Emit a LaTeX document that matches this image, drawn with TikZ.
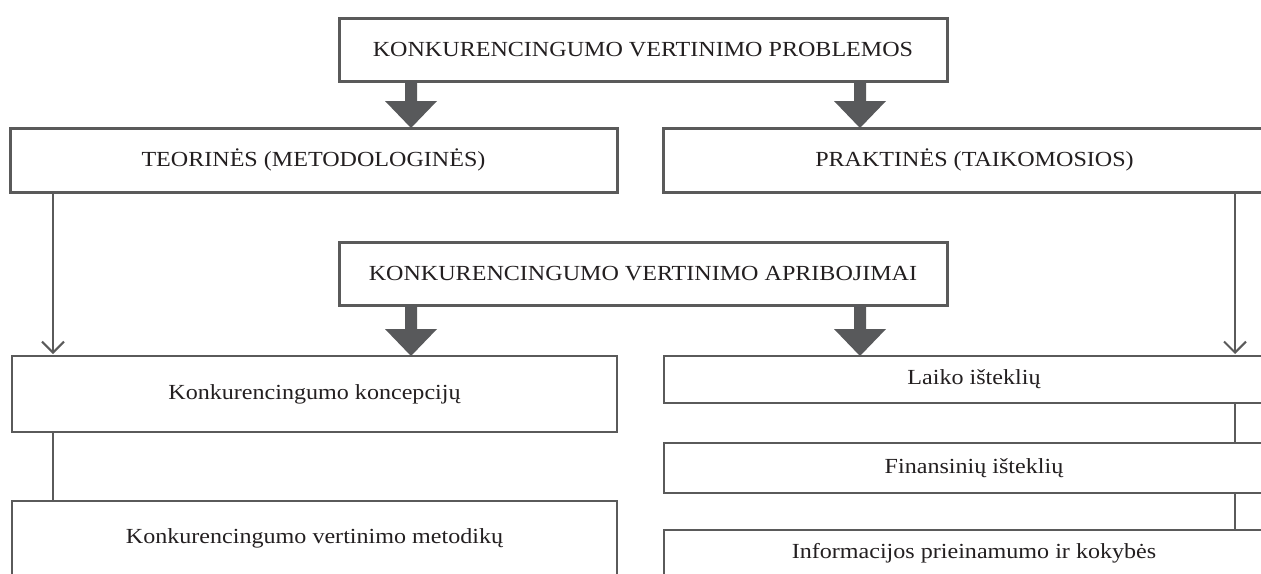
\documentclass[tikz,border=0pt]{standalone}
\usepackage{fontspec}
\setmainfont{Liberation Serif}[FakeStretch=1.12]
\usetikzlibrary{arrows.meta,calc}
\definecolor{bordc}{HTML}{5A5A5A}
\definecolor{arrc}{HTML}{58595B}
\definecolor{txtc}{HTML}{231F20}
\tikzset{
  boxbase/.style={draw=bordc, fill=white, text=txtc, inner sep=0pt, outer sep=0pt,
    font=\fontsize{21.5}{25}\selectfont},
  capbox/.style={boxbase, line width=3pt},
  lowbox/.style={boxbase, line width=2pt},
  conn/.style={draw=bordc, line width=2pt},
  thinarrow/.style={conn, -{Straight Barb[length=11pt,width=22pt]}},
  blockarrow/.style={fill=arrc}
}
\newcommand\blockarr[2]{%
  \fill[blockarrow] let \p1=(#1), \p2=(#2) in
    (\x1-6pt,\y1) -- (\x1-6pt,\y2+27pt) -- (\x1-26pt,\y2+27pt) -- (\x1,\y2)
    -- (\x1+26pt,\y2+27pt) -- (\x1+6pt,\y2+27pt) -- (\x1+6pt,\y1) -- cycle;}
\begin{document}
\begin{tikzpicture}[x=1pt,y=-1pt]
\useasboundingbox (0,0) rectangle (1261,573);
\fill[white] (0,0) rectangle (1261,573);
\clip (0,0) rectangle (1261,573);

% top level
\node[capbox, minimum width=608pt, minimum height=63pt] (top) at (643,49.5) {KONKURENCINGUMO VERTINIMO PROBLEMOS};
\node[capbox, minimum width=607pt, minimum height=64pt] (teo) at (313.5,160) {TEORINĖS (METODOLOGINĖS)};
\node[capbox, minimum width=622pt, minimum height=64pt] (prak) at (974.5,160) {PRAKTINĖS (TAIKOMOSIOS)};
\node[capbox, minimum width=608pt, minimum height=63pt] (apr) at (643,273.5) {KONKURENCINGUMO VERTINIMO APRIBOJIMAI};

% lower boxes
\node[lowbox, minimum width=605pt, minimum height=76pt] (kon) at (314.5,394) {Konkurencingumo koncepcijų};
\node[lowbox, minimum width=605pt, minimum height=74pt] (met) at (314.5,538) {Konkurencingumo vertinimo metodikų};
\node[lowbox, minimum width=620pt, minimum height=47pt] (laiko) at (974,379.5) {Laiko išteklių};
\node[lowbox, minimum width=620pt, minimum height=50pt] (fin) at (974,468) {Finansinių išteklių};
\node[lowbox, minimum width=620pt, minimum height=46pt] (inf) at (974,553) {Informacijos prieinamumo ir kokybės};

% x positions of connectors
\coordinate (a1) at (411,0);
\coordinate (a2) at (860,0);
\coordinate (lx) at (53,0);
\coordinate (rx) at (1235,0);

% block arrows
\blockarr{top.south -| a1}{teo.north -| a1}
\blockarr{top.south -| a2}{prak.north -| a2}
\blockarr{apr.south -| a1}{kon.north -| a1}
\blockarr{apr.south -| a2}{laiko.north -| a2}

% thin arrows and connectors
\draw[thinarrow] (teo.south -| lx) -- ([yshift=2pt]kon.north -| lx);
\draw[thinarrow] (prak.south -| rx) -- ([yshift=2pt]laiko.north -| rx);
\draw[conn] (kon.south -| lx) -- (met.north -| lx);
\draw[conn] (laiko.south -| rx) -- (fin.north -| rx);
\draw[conn] (fin.south -| rx) -- (inf.north -| rx);
\end{tikzpicture}
\end{document}
